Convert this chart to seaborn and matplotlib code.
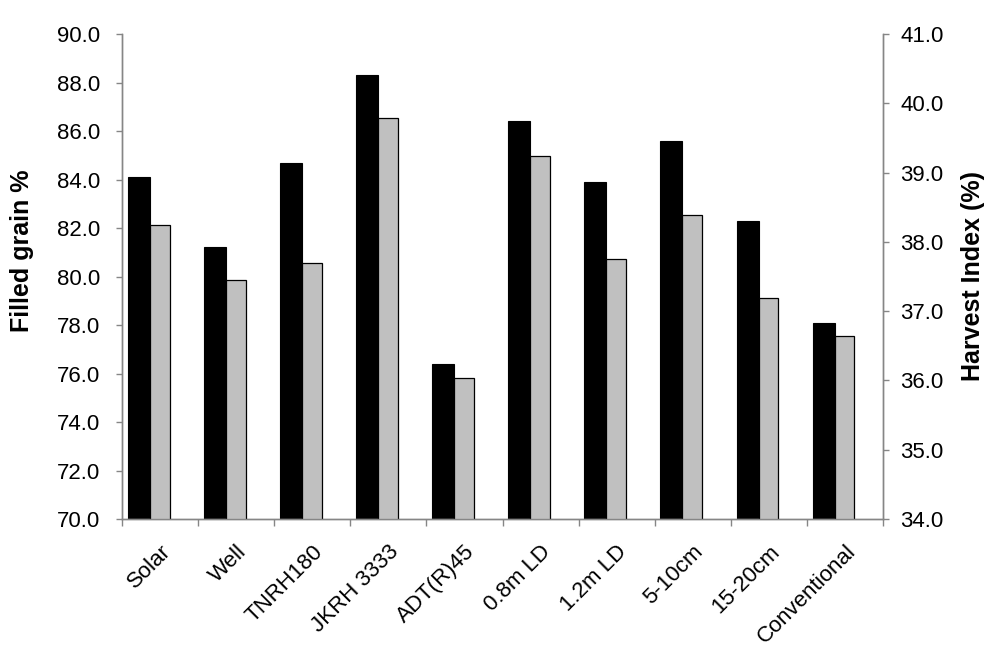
#!/usr/bin/env python3
"""
Filled grain % and harvest index by treatment (dual axis bar chart).
"""
import numpy as np
import matplotlib
matplotlib.use("Agg")
import matplotlib.pyplot as plt
import matplotlib.transforms as mtransforms
import seaborn as sns
from matplotlib.ticker import FormatStrFormatter, MultipleLocator

# data
treatments = ["Solar", "Well", "TNRH180", "JKRH 3333", "ADT(R)45",
              "0.8m LD", "1.2m LD", "5-10cm", "15-20cm", "Conventional"]
filled_grain = [84.1, 81.2, 84.7, 88.3, 76.4, 86.4, 83.9, 85.6, 82.3, 78.1]
harvest_index = [38.24, 37.45, 37.70, 39.79, 36.03, 39.24, 37.76, 38.39, 37.19, 36.64]

sns.set_style("white")
plt.rcParams["font.family"] = ["Liberation Sans", "DejaVu Sans"]
plt.rcParams["text.color"] = "black"
plt.rcParams["axes.labelcolor"] = "black"

AXIS_GRAY = "#868686"

fig = plt.figure(figsize=(10, 6.56), dpi=100)
ax = fig.add_axes([0.122, 0.2088, 0.761, 0.7393])
ax2 = ax.twinx()

idx = np.arange(len(treatments))

# black bars -> left axis, grey bars -> right axis
sns.barplot(x=idx - 0.28, y=filled_grain, native_scale=True, width=0.29,
            color="black", saturation=1, edgecolor="black", linewidth=0.8,
            errorbar=None, ax=ax)
sns.barplot(x=idx - 0.005, y=harvest_index, native_scale=True, width=0.26,
            color="#c0c0c0", saturation=1, edgecolor="black", linewidth=0.9,
            errorbar=None, ax=ax2)

ax.set_xlim(-0.5, len(treatments) - 0.5)
ax.set_ylim(70, 90)
ax2.set_ylim(34, 41)

ax.yaxis.set_major_locator(MultipleLocator(2))
ax.yaxis.set_major_formatter(FormatStrFormatter("%.1f"))
ax2.yaxis.set_major_locator(MultipleLocator(1))
ax2.yaxis.set_major_formatter(FormatStrFormatter("%.1f"))

# category labels in the middle, tick marks on the boundaries
for a in (ax, ax2):
    a.set_xticks(idx)
    a.set_xticks(np.arange(len(treatments) + 1) - 0.5, minor=True)
ax.set_xticklabels(treatments, rotation=45, ha="right", va="top",
                   rotation_mode="anchor", fontsize=16, color="black")
shift = mtransforms.ScaledTranslation(-4 / 100, 0, fig.dpi_scale_trans)
for lbl in ax.get_xticklabels():
    lbl.set_transform(lbl.get_transform() + shift)
ax.tick_params(axis="x", which="major", length=0, pad=16)
ax.tick_params(axis="x", which="minor", length=5, width=1, color=AXIS_GRAY,
               direction="out", bottom=True)
ax2.tick_params(axis="x", which="both", bottom=False, labelbottom=False)

ax.tick_params(axis="y", which="major", length=4.5, width=1, color=AXIS_GRAY,
               labelcolor="black", direction="out", labelsize=16, pad=11,
               left=True)
ax2.tick_params(axis="y", which="major", length=4.5, width=1, color=AXIS_GRAY,
                labelcolor="black", direction="out", labelsize=16, pad=8,
                right=True)

for a in (ax, ax2):
    a.set_xlabel("")
    a.spines["top"].set_visible(False)
    for s in ("left", "right", "bottom"):
        a.spines[s].set_color(AXIS_GRAY)
        a.spines[s].set_linewidth(1)
    a.grid(False)

ax.set_ylabel("Filled grain %", fontsize=18, fontweight="bold", va="center")
ax.yaxis.set_label_coords(-0.1314, 0.5526)
ax2.set_ylabel("Harvest Index (%)", fontsize=18, fontweight="bold",
               rotation=90, va="center")
ax2.yaxis.set_label_coords(1.118, 0.501)

fig.savefig("out.png", dpi=100, facecolor="white")
